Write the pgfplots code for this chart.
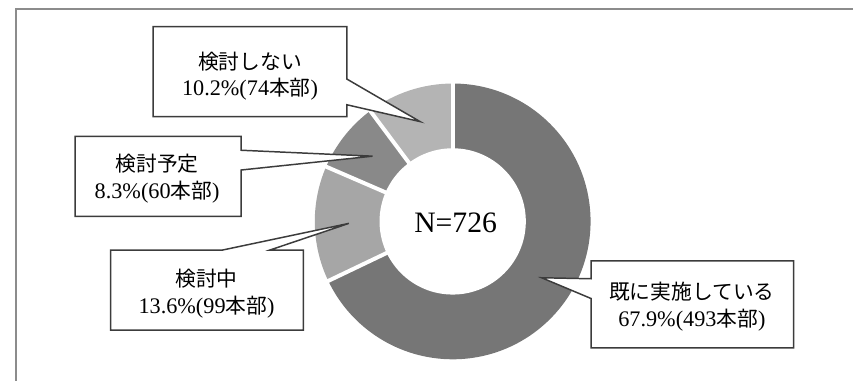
\documentclass[border=0pt]{standalone}
\usepackage{pgfplots}
\usepackage{pgfplotstable}
\pgfplotsset{compat=1.18}
\usepackage{fontspec}
\setmainfont{Liberation Serif}
\newfontfamily\cjk{Noto Sans CJK JP}

\definecolor{cA}{HTML}{767676}
\definecolor{cB}{HTML}{A6A6A6}
\definecolor{cC}{HTML}{898989}
\definecolor{cD}{HTML}{B4B4B4}
\definecolor{frame}{HTML}{8C8C8C}
\definecolor{edge}{HTML}{3C3C3C}

% share (%) and count of each answer, clockwise from the top
\pgfplotstableread{
idx pct count
0 67.9 493
1 13.6 99
2 8.3 60
3 10.2 74
}\donutdata

\newcommand\J[1]{{\cjk\fontsize{21bp}{27bp}\selectfont #1}}

\begin{document}
\pgfplotstablegetelem{0}{pct}\of\donutdata \let\pA\pgfplotsretval
\pgfplotstablegetelem{1}{pct}\of\donutdata \let\pB\pgfplotsretval
\pgfplotstablegetelem{2}{pct}\of\donutdata \let\pC\pgfplotsretval
\pgfplotstablegetelem{3}{pct}\of\donutdata \let\pD\pgfplotsretval
\pgfmathsetmacro\aA{90-3.6*\pA}
\pgfmathsetmacro\aB{\aA-3.6*\pB}
\pgfmathsetmacro\aC{\aB-3.6*\pC}
\pgfmathsetmacro\aD{\aC-3.6*\pD}
\begin{tikzpicture}
\begin{axis}[hide axis, scale only axis, width=853bp, height=385bp,
  xmin=0, xmax=853, ymin=0, ymax=385, y dir=reverse, clip=false]
\coordinate (BL) at (axis cs:0,385);
\coordinate (TR) at (axis cs:853,0);
% frame
\draw[frame, line width=2.2bp] (axis cs:6.5,385) -- (axis cs:6.5,9.5) -- (axis cs:853,9.5);
% donut
\def\R{139.5bp}
\fill[cA] (axis cs:448,224) -- ++(90:\R) arc[start angle=90, end angle=\aA, radius=\R] -- cycle;
\fill[cB] (axis cs:448,224) -- ++(\aA:\R) arc[start angle=\aA, end angle=\aB, radius=\R] -- cycle;
\fill[cC] (axis cs:448,224) -- ++(\aB:\R) arc[start angle=\aB, end angle=\aC, radius=\R] -- cycle;
\fill[cD] (axis cs:448,224) -- ++(\aC:\R) arc[start angle=\aC, end angle=\aD, radius=\R] -- cycle;
\draw[white, line width=4bp] (axis cs:448,224) -- ++(90:142bp);
\draw[white, line width=4bp] (axis cs:448,224) -- ++(\aA:142bp);
\draw[white, line width=4bp] (axis cs:448,224) -- ++(\aB:142bp);
\draw[white, line width=4bp] (axis cs:448,224) -- ++(\aC:142bp);
\fill[white] (axis cs:448,224) circle[radius=74bp];
\node[font=\fontsize{30bp}{34bp}\selectfont, text=black] at (axis cs:451,225) {N=726};
% callouts
\filldraw[fill=white, draw=edge, line width=1.5bp, line join=miter]
  (axis cs:145,27) -- (axis cs:341,27) -- (axis cs:341,80) -- (axis cs:415,123)
  -- (axis cs:341,106) -- (axis cs:341,118) -- (axis cs:145,118) -- cycle;
\filldraw[fill=white, draw=edge, line width=1.5bp, line join=miter]
  (axis cs:66,138) -- (axis cs:234,138) -- (axis cs:234,152) -- (axis cs:367,158)
  -- (axis cs:234,172) -- (axis cs:234,219) -- (axis cs:66,219) -- cycle;
\filldraw[fill=white, draw=edge, line width=1.5bp, line join=miter]
  (axis cs:102,253) -- (axis cs:215,253) -- (axis cs:343,226) -- (axis cs:263,253)
  -- (axis cs:297,253) -- (axis cs:297,334) -- (axis cs:102,334) -- cycle;
\filldraw[fill=white, draw=edge, line width=1.5bp, line join=miter]
  (axis cs:588,264) -- (axis cs:793,264) -- (axis cs:793,352) -- (axis cs:588,352)
  -- (axis cs:588,302) -- (axis cs:538,281) -- (axis cs:588,282) -- cycle;
\tikzset{lab/.style={align=center, text=black, inner sep=0pt,
  font=\fontsize{22.5bp}{27bp}\selectfont}}
\node[lab] at (axis cs:243,77) {\J{検討しない}\\10.2\%(74\J{本部})};
\node[lab] at (axis cs:149,181) {\J{検討予定}\\8.3\%(60\J{本部})};
\node[lab] at (axis cs:199,297) {\J{検討中}\\13.6\%(99\J{本部})};
\node[lab] at (axis cs:690,310) {\J{既に実施している}\\67.9\%(493\J{本部})};
\end{axis}
\pgfresetboundingbox
\path[use as bounding box] (BL) rectangle (TR);
\end{tikzpicture}
\end{document}
